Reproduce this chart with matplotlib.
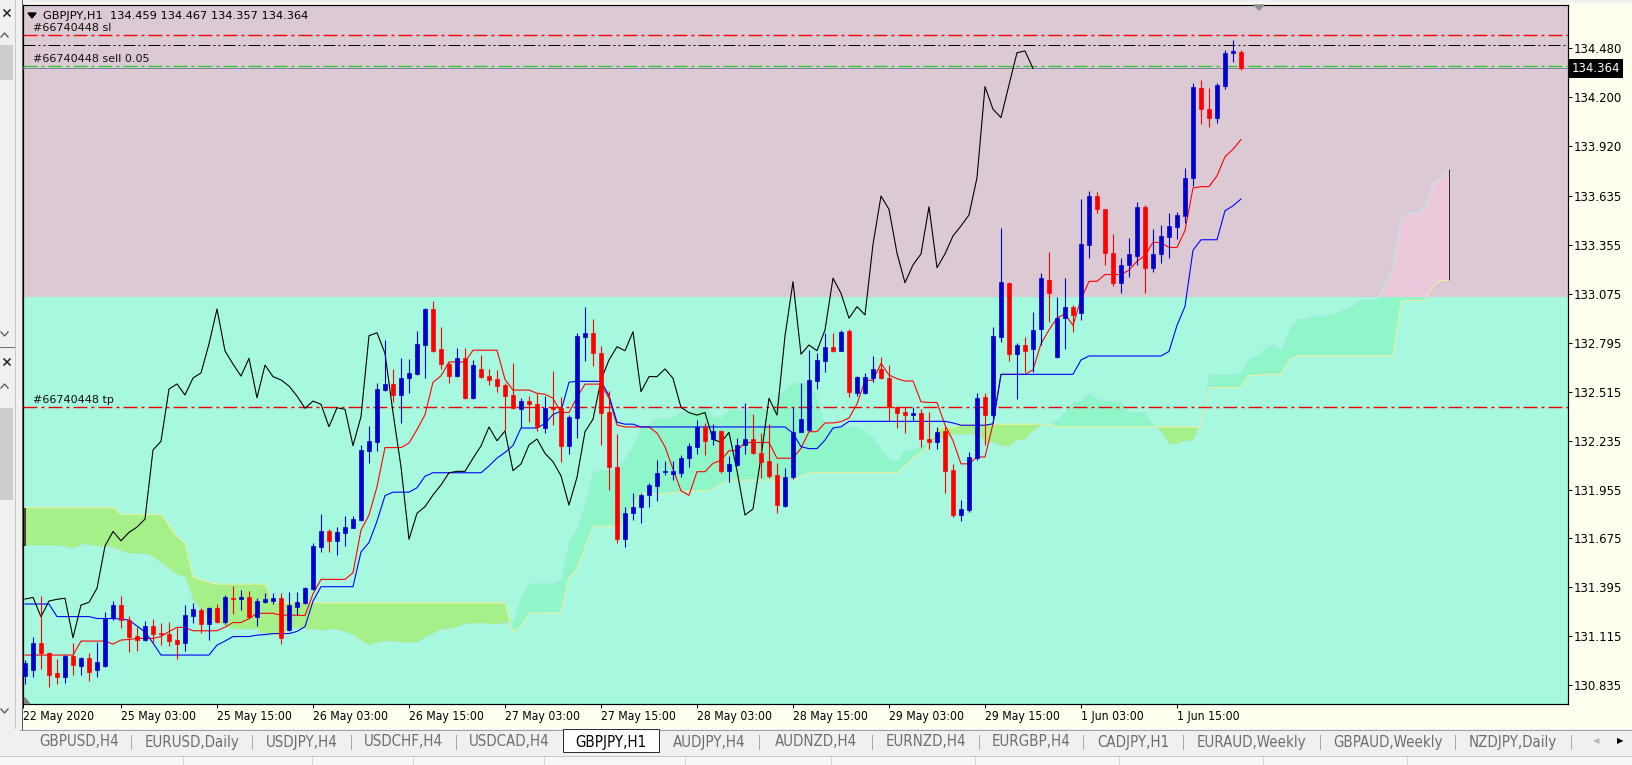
import matplotlib
matplotlib.use("Agg")
import matplotlib.pyplot as plt
from matplotlib.patches import Rectangle, Polygon
from matplotlib.lines import Line2D
import numpy as np

W, H, DPI = 1632, 765, 100

# ------------------------------------------------------------
# GBPJPY H1 - bar 0 = 25 May 2020 00:00, first visible bar = 22 May 15:00
FIRST_BAR = -9

opens = [
    130.888, 130.922, 131.078, 131.018, 130.905, 130.884, 131.002, 130.945, 130.993, 130.922,
    130.948, 131.218, 131.294, 131.208, 131.119, 131.097, 131.174, 131.137, 131.128, 131.094,
    131.075, 131.233, 131.266, 131.185, 131.277, 131.195, 131.337, 131.326, 131.340, 131.227,
    131.311, 131.319, 131.333, 131.151, 131.284, 131.304, 131.386, 131.628, 131.718, 131.662,
    131.708, 131.736, 131.781, 132.175, 132.229, 132.524, 132.559, 132.496, 132.595, 132.616,
    132.782, 132.988, 132.759, 132.673, 132.604, 132.706, 132.480, 132.645, 132.604, 132.587,
    132.553, 132.496, 132.416, 132.461, 132.444, 132.309, 132.425, 132.420, 132.206, 132.366,
    132.829, 132.852, 132.738, 132.400, 132.085, 131.670, 131.819, 131.857, 131.924, 131.977,
    132.053, 132.042, 132.051, 132.137, 132.200, 132.313, 132.244, 132.290, 132.063, 132.095,
    132.210, 132.244, 132.162, 132.120, 132.038, 131.862, 132.025, 132.286, 132.295, 132.578,
    132.692, 132.769, 132.749, 132.864, 132.509, 132.506, 132.595, 132.645, 132.595, 132.429,
    132.400, 132.381, 132.391, 132.244, 132.229, 132.290, 132.067, 131.809, 131.838, 132.135,
    132.486, 132.381, 132.829, 133.135, 132.729, 132.782, 132.757, 132.872, 133.154, 132.715,
    132.935, 133.001, 132.963, 133.354, 133.634, 133.558, 133.307, 133.135, 133.240, 133.291,
    133.573, 133.224, 133.301, 133.402, 133.459, 133.520, 133.739, 134.254, 134.132, 134.083,
    134.264, 134.451, 134.459,
]
highs = [
    130.979, 131.113, 131.346, 131.027, 130.983, 131.008, 131.075, 130.998, 131.018, 131.084,
    131.256, 131.317, 131.346, 131.233, 131.170, 131.203, 131.212, 131.191, 131.195, 131.161,
    131.294, 131.308, 131.277, 131.285, 131.299, 131.351, 131.403, 131.378, 131.374, 131.334,
    131.361, 131.361, 131.361, 131.367, 131.367, 131.399, 131.647, 131.813, 131.727, 131.742,
    131.805, 131.805, 132.210, 132.318, 132.563, 132.811, 132.645, 132.706, 132.702, 132.862,
    132.992, 133.034, 132.883, 132.686, 132.763, 132.763, 132.696, 132.725, 132.643, 132.639,
    132.564, 132.677, 132.479, 132.490, 132.506, 132.490, 132.635, 132.486, 132.380, 132.849,
    133.001, 132.931, 132.776, 132.520, 132.273, 131.853, 131.933, 131.933, 131.991, 132.124,
    132.120, 132.120, 132.152, 132.219, 132.353, 132.334, 132.330, 132.295, 132.147, 132.251,
    132.448, 132.387, 132.277, 132.330, 132.107, 132.076, 132.425, 132.563, 132.753, 132.738,
    132.852, 132.849, 132.868, 132.872, 132.605, 132.620, 132.719, 132.715, 132.667, 132.435,
    132.429, 132.429, 132.414, 132.400, 132.311, 132.314, 132.101, 131.895, 132.170, 132.507,
    132.506, 132.887, 133.453, 133.144, 132.792, 132.829, 132.972, 133.196, 133.316, 133.058,
    133.164, 133.011, 133.617, 133.663, 133.656, 133.560, 133.417, 133.278, 133.392, 133.602,
    133.583, 133.444, 133.469, 133.539, 133.545, 133.796, 134.283, 134.298, 134.254, 134.279,
    134.470, 134.527, 134.467,
]
lows = [
    130.842, 130.882, 130.926, 130.825, 130.842, 130.848, 130.894, 130.894, 130.859, 130.882,
    130.940, 131.208, 131.163, 131.027, 131.034, 131.088, 131.075, 131.065, 131.062, 130.985,
    131.029, 131.194, 131.137, 131.092, 131.190, 131.185, 131.241, 131.266, 131.220, 131.176,
    131.303, 131.300, 131.069, 131.145, 131.237, 131.300, 131.380, 131.599, 131.599, 131.580,
    131.632, 131.735, 131.775, 132.105, 132.177, 132.519, 132.457, 132.337, 132.509, 132.610,
    132.595, 132.742, 132.643, 132.566, 132.600, 132.471, 132.473, 132.591, 132.553, 132.515,
    132.286, 132.416, 132.314, 132.340, 132.292, 132.277, 132.324, 132.114, 132.156, 132.248,
    132.692, 132.664, 132.210, 131.952, 131.647, 131.624, 131.781, 131.762, 131.857, 131.891,
    132.038, 132.009, 132.028, 132.085, 132.158, 132.153, 132.210, 132.048, 131.999, 132.090,
    132.158, 132.158, 132.019, 132.019, 131.819, 131.857, 132.015, 132.284, 132.290, 132.528,
    132.629, 132.740, 132.748, 132.483, 132.490, 132.502, 132.572, 132.587, 132.349, 132.305,
    132.280, 132.353, 132.197, 132.187, 132.187, 131.933, 131.799, 131.775, 131.826, 132.124,
    132.210, 132.364, 132.797, 132.690, 132.471, 132.629, 132.629, 132.782, 132.915, 132.708,
    132.757, 132.858, 132.925, 133.281, 133.539, 133.240, 133.119, 133.078, 133.169, 133.240,
    133.078, 133.201, 133.249, 133.278, 133.387, 133.478, 133.692, 134.046, 134.031, 134.054,
    134.247, 134.403, 134.357,
]
closes = [
    130.962, 131.078, 131.018, 130.894, 130.884, 131.002, 130.951, 130.993, 130.912, 130.970,
    131.218, 131.294, 131.208, 131.113, 131.097, 131.174, 131.128, 131.131, 131.090, 131.074,
    131.237, 131.270, 131.185, 131.279, 131.199, 131.342, 131.328, 131.338, 131.227, 131.317,
    131.327, 131.333, 131.107, 131.294, 131.310, 131.390, 131.632, 131.715, 131.662, 131.710,
    131.740, 131.786, 132.181, 132.231, 132.530, 132.559, 132.496, 132.593, 132.622, 132.788,
    132.988, 132.748, 132.673, 132.604, 132.706, 132.480, 132.667, 132.601, 132.582, 132.547,
    132.490, 132.420, 132.461, 132.443, 132.314, 132.423, 132.414, 132.206, 132.372, 132.835,
    132.852, 132.734, 132.395, 132.085, 131.670, 131.819, 131.857, 131.924, 131.981, 132.051,
    132.059, 132.059, 132.134, 132.204, 132.313, 132.234, 132.290, 132.063, 132.101, 132.210,
    132.244, 132.162, 132.114, 132.034, 131.866, 132.025, 132.286, 132.357, 132.582, 132.696,
    132.772, 132.749, 132.858, 132.515, 132.601, 132.601, 132.645, 132.591, 132.425, 132.395,
    132.381, 132.395, 132.242, 132.225, 132.282, 132.063, 131.809, 131.844, 132.141, 132.477,
    132.381, 132.833, 133.144, 132.729, 132.782, 132.749, 132.868, 133.164, 133.078, 132.935,
    133.001, 132.954, 133.358, 133.634, 133.558, 133.307, 133.138, 133.240, 133.303, 133.573,
    133.224, 133.303, 133.406, 133.463, 133.526, 133.739, 134.260, 134.131, 134.083, 134.270,
    134.454, 134.464, 134.364,
]

# Ichimoku (9, 26, 52)
tenkan = [
    131.008, 131.008, 131.008, 131.008, 131.008, 131.008, 131.008, 131.088, 131.088, 131.088,
    131.088, 131.071, 131.094, 131.097, 131.103, 131.103, 131.103, 131.114, 131.143, 131.166,
    131.166, 131.147, 131.147, 131.147, 131.147, 131.168, 131.194, 131.194, 131.216, 131.247,
    131.247, 131.247, 131.236, 131.236, 131.236, 131.234, 131.358, 131.441, 131.441, 131.441,
    131.441, 131.479, 131.723, 131.809, 131.971, 132.195, 132.195, 132.195, 132.221, 132.298,
    132.383, 132.569, 132.605, 132.685, 132.685, 132.685, 132.752, 132.752, 132.752, 132.752,
    132.585, 132.524, 132.524, 132.524, 132.506, 132.500, 132.477, 132.396, 132.396, 132.482,
    132.558, 132.558, 132.558, 132.477, 132.324, 132.313, 132.313, 132.313, 132.313, 132.278,
    132.200, 132.072, 131.948, 131.922, 132.057, 132.057, 132.105, 132.122, 132.177, 132.177,
    132.224, 132.224, 132.224, 132.224, 132.134, 132.134, 132.134, 132.191, 132.286, 132.286,
    132.336, 132.336, 132.343, 132.364, 132.444, 132.578, 132.581, 132.677, 132.610, 132.589,
    132.576, 132.576, 132.457, 132.453, 132.453, 132.324, 132.234, 132.102, 132.102, 132.141,
    132.141, 132.331, 132.614, 132.614, 132.614, 132.614, 132.640, 132.789, 132.868, 132.936,
    132.959, 132.894, 133.044, 133.146, 133.146, 133.185, 133.185, 133.185, 133.210, 133.261,
    133.294, 133.370, 133.367, 133.340, 133.340, 133.437, 133.680, 133.688, 133.688, 133.750,
    133.859, 133.902, 133.957,
]
kijun = [
    131.300, 131.300, 131.300, 131.300, 131.228, 131.228, 131.228, 131.228, 131.228, 131.217,
    131.217, 131.217, 131.214, 131.208, 131.174, 131.140, 131.077, 131.008, 131.008, 131.008,
    131.008, 131.008, 131.008, 131.008, 131.065, 131.088, 131.114, 131.114, 131.114, 131.122,
    131.125, 131.131, 131.131, 131.131, 131.143, 131.171, 131.316, 131.399, 131.399, 131.399,
    131.399, 131.399, 131.598, 131.652, 131.774, 131.920, 131.940, 131.940, 131.940, 131.965,
    132.031, 132.051, 132.051, 132.051, 132.051, 132.051, 132.051, 132.051, 132.090, 132.135,
    132.167, 132.207, 132.307, 132.307, 132.307, 132.333, 132.384, 132.404, 132.569, 132.574,
    132.574, 132.574, 132.574, 132.493, 132.340, 132.329, 132.329, 132.313, 132.313, 132.313,
    132.313, 132.313, 132.313, 132.313, 132.313, 132.313, 132.313, 132.313, 132.313, 132.313,
    132.313, 132.313, 132.313, 132.313, 132.313, 132.313, 132.277, 132.200, 132.189, 132.189,
    132.238, 132.307, 132.314, 132.345, 132.345, 132.345, 132.345, 132.345, 132.345, 132.345,
    132.345, 132.345, 132.345, 132.345, 132.345, 132.345, 132.336, 132.323, 132.323, 132.323,
    132.323, 132.331, 132.614, 132.614, 132.614, 132.614, 132.614, 132.614, 132.614, 132.614,
    132.614, 132.614, 132.696, 132.719, 132.719, 132.719, 132.719, 132.719, 132.719, 132.719,
    132.719, 132.719, 132.719, 132.745, 132.894, 133.003, 133.324, 133.384, 133.384, 133.384,
    133.550, 133.578, 133.617,
]
# senkou spans, already shifted 26 bars ahead (bars -9 .. 169)
span_a = [
    131.632, 131.632, 131.632, 131.632, 131.632, 131.626, 131.615, 131.638, 131.638, 131.628,
    131.626, 131.620, 131.603, 131.586, 131.586, 131.586, 131.569, 131.534, 131.500, 131.466,
    131.454, 131.323, 131.266, 131.220, 131.191, 131.174, 131.154, 131.154, 131.154, 131.154,
    131.118, 131.118, 131.118, 131.158, 131.158, 131.152, 131.152, 131.144, 131.154, 131.152,
    131.138, 131.121, 131.089, 131.061, 131.075, 131.086, 131.086, 131.077, 131.077, 131.077,
    131.106, 131.128, 131.154, 131.154, 131.165, 131.185, 131.186, 131.189, 131.183, 131.183,
    131.189, 131.203, 131.337, 131.420, 131.420, 131.420, 131.420, 131.439, 131.660, 131.730,
    131.872, 132.058, 132.067, 132.067, 132.080, 132.132, 132.207, 132.310, 132.328, 132.368,
    132.368, 132.368, 132.401, 132.401, 132.421, 132.444, 132.376, 132.365, 132.416, 132.416,
    132.406, 132.416, 132.431, 132.400, 132.482, 132.528, 132.566, 132.566, 132.566, 132.485,
    132.332, 132.321, 132.321, 132.313, 132.313, 132.296, 132.256, 132.193, 132.130, 132.117,
    132.185, 132.185, 132.209, 132.217, 132.245, 132.245, 132.268, 132.268, 132.268, 132.268,
    132.223, 132.223, 132.205, 132.195, 132.237, 132.237, 132.287, 132.321, 132.329, 132.355,
    132.395, 132.461, 132.463, 132.511, 132.478, 132.467, 132.460, 132.460, 132.401, 132.399,
    132.399, 132.334, 132.285, 132.213, 132.213, 132.232, 132.232, 132.331, 132.614, 132.614,
    132.614, 132.614, 132.627, 132.702, 132.723, 132.762, 132.788, 132.754, 132.870, 132.933,
    132.933, 132.952, 132.952, 132.952, 132.964, 132.990, 133.007, 133.045, 133.043, 133.042,
    133.117, 133.220, 133.502, 133.536, 133.536, 133.568, 133.705, 133.740, 133.787,
]
span_b = [
    131.851, 131.851, 131.851, 131.851, 131.851, 131.851, 131.851, 131.851, 131.851, 131.851,
    131.851, 131.851, 131.813, 131.813, 131.813, 131.813, 131.813, 131.813, 131.752, 131.685,
    131.647, 131.456, 131.437, 131.426, 131.414, 131.414, 131.414, 131.414, 131.414, 131.414,
    131.414, 131.307, 131.307, 131.307, 131.307, 131.307, 131.307, 131.307, 131.307, 131.307,
    131.307, 131.307, 131.307, 131.307, 131.307, 131.307, 131.307, 131.307, 131.307, 131.307,
    131.307, 131.307, 131.307, 131.307, 131.307, 131.307, 131.307, 131.307, 131.307, 131.307,
    131.307, 131.140, 131.168, 131.248, 131.248, 131.248, 131.248, 131.248, 131.449, 131.500,
    131.620, 131.746, 131.746, 131.746, 131.746, 131.775, 131.878, 131.929, 131.938, 131.929,
    131.929, 131.938, 131.941, 131.947, 131.947, 131.947, 131.958, 131.987, 132.009, 132.009,
    132.009, 132.009, 132.009, 132.009, 132.009, 132.009, 132.009, 132.031, 132.051, 132.051,
    132.051, 132.051, 132.051, 132.051, 132.051, 132.051, 132.051, 132.051, 132.051, 132.051,
    132.090, 132.135, 132.167, 132.207, 132.307, 132.307, 132.307, 132.329, 132.329, 132.329,
    132.329, 132.329, 132.329, 132.329, 132.329, 132.329, 132.329, 132.329, 132.329, 132.313,
    132.313, 132.313, 132.313, 132.313, 132.313, 132.313, 132.313, 132.313, 132.313, 132.313,
    132.313, 132.313, 132.313, 132.313, 132.313, 132.313, 132.313, 132.313, 132.539, 132.539,
    132.539, 132.539, 132.539, 132.607, 132.607, 132.614, 132.614, 132.614, 132.696, 132.719,
    132.719, 132.719, 132.719, 132.719, 132.719, 132.719, 132.719, 132.719, 132.719, 132.719,
    132.719, 132.719, 133.029, 133.037, 133.037, 133.037, 133.122, 133.151, 133.151,
]

time_ticks = [3, 15, 27, 39, 51, 63, 75, 87, 99, 111, 123, 135]
time_labels = ["25 May 03:00", "25 May 15:00", "26 May 03:00", "26 May 15:00",
               "27 May 03:00", "27 May 15:00", "28 May 03:00", "28 May 15:00",
               "29 May 03:00", "29 May 15:00", "1 Jun 03:00", "1 Jun 15:00"]
first_label = "22 May 2020"
price_ticks = [134.480, 134.200, 133.920, 133.635, 133.355, 133.075, 132.795,
               132.515, 132.235, 131.955, 131.675, 131.395, 131.115, 130.835]

ticket = "#66740448"
order_sl = 134.556
level_line = 134.500
order_open = 134.377
bid = 134.364
order_tp = 132.425
zone_split = 133.058
header = "GBPJPY,H1  134.459 134.467 134.357 134.364"

tabs = ["GBPUSD,H4", "EURUSD,Daily", "USDJPY,H4", "USDCHF,H4", "USDCAD,H4",
        "GBPJPY,H1", "AUDJPY,H4", "AUDNZD,H4", "EURNZD,H4", "EURGBP,H4",
        "CADJPY,H1", "EURAUD,Weekly", "GBPAUD,Weekly", "NZDJPY,Daily"]
active_tab = "GBPJPY,H1"

# ------------------------------------------------------------
BG_SELL = "#dbcad4"
BG_BUY = "#a6f8de"
CLOUD_UP_BUY = "#8ff6c9"
CLOUD_UP_SELL = "#ecc9da"
CLOUD_DOWN = "#a5f089"
BULL = "#0000cc"
BEAR = "#ff0000"
PX = 0.72  # one pixel in points
AXFONT = 9.0

plt.rcParams["font.family"] = "DejaVu Sans"
plt.rcParams["lines.scale_dashes"] = False

fig = plt.figure(figsize=(W / DPI, H / DPI), dpi=DPI)
fig.patch.set_facecolor("#f0f0f0")


def fig_rect(x0, y0, x1, y1, **kw):
    r = Rectangle((x0 / W, 1 - y1 / H), (x1 - x0) / W, (y1 - y0) / H,
                  transform=fig.transFigure, **kw)
    fig.add_artist(r)


def fig_line(xs, ys, **kw):
    fig.add_artist(Line2D([x / W for x in xs], [1 - y / H for y in ys],
                          transform=fig.transFigure, **kw))


def fig_text(x, y, s, **kw):
    fig.text(x / W, 1 - y / H, s, **kw)


# chart window (ivory axis area)
fig_rect(22, 3, W, 729, facecolor="#fffff0", edgecolor="none", zorder=0)

ax = fig.add_axes([23 / W, 1 - 704 / H, (1568 - 23) / W, (704 - 5) / H])
xlo, xhi = FIRST_BAR - 0.25, 183.875
ylo, yhi = 130.728, 134.727
ax.set_xlim(xlo, xhi)
ax.set_ylim(ylo, yhi)
ax.set_facecolor(BG_BUY)
ax.axhspan(zone_split, yhi, color=BG_SELL, lw=0, zorder=0)
ax.axhspan(ylo, zone_split, color=BG_BUY, lw=0, zorder=0)

# ---- cloud ----
xs = np.arange(FIRST_BAR, FIRST_BAR + len(span_a))
a = np.array(span_a)
b = np.array(span_b)
ax.fill_between(xs, a, b, where=b >= a, interpolate=True, color=CLOUD_DOWN, lw=0, zorder=1)
for clr, y0, y1 in ((CLOUD_UP_BUY, ylo, zone_split), (CLOUD_UP_SELL, zone_split, yhi)):
    f = ax.fill_between(xs, a, b, where=a >= b, interpolate=True, color=clr, lw=0, zorder=1)
    f.set_clip_path(Rectangle((xlo, y0), xhi - xlo, y1 - y0, transform=ax.transData))
ax.plot(xs, a, color="#b4ecf0", lw=PX, zorder=2)
ax.plot(xs, b, color="#f4eea0", lw=PX, zorder=2)
ax.vlines([xs[-1]], min(a[-1], b[-1]), max(a[-1], b[-1]), color="#303030", lw=PX, zorder=2)
ax.vlines([xs[0]], min(a[0], b[0]), max(a[0], b[0]), color="#4a2020", lw=1.2, zorder=2)

# ---- order / level lines ----
dash_dot = (0, (10.0, 2.9, 2.2, 2.9))
dash_dot_dot = (0, (8.6, 2.2, 1.4, 2.2, 1.4, 2.2))
for lvl, clr, ls, lw in ((order_sl, "#ff0000", dash_dot, 1.0), (order_tp, "#ee0000", dash_dot, 1.0),
                         (level_line, "black", dash_dot_dot, PX), (order_open, "#22cc22", dash_dot, 0.9),
                         (bid, "#778899", "-", PX)):
    ax.axhline(lvl, color=clr, lw=lw, linestyle=ls, zorder=3)

# ---- ichimoku lines ----
bars = np.arange(FIRST_BAR, FIRST_BAR + len(opens))
o, h, l, c = (np.array(v) for v in (opens, highs, lows, closes))
ax.plot(bars, tenkan, color="#ff0000", lw=PX * 1.1, zorder=4)
ax.plot(bars, kijun, color="#0000ff", lw=PX * 1.1, zorder=4)
ax.plot(bars[26:] - 26, c[26:], color="black", lw=PX * 1.1, zorder=4)

# ---- candles ----
col = np.where(c >= o, BULL, BEAR)
ax.vlines(bars, l, h, colors=col, lw=PX * 1.1, zorder=5)
ax.bar(bars, np.abs(c - o), width=0.6, bottom=np.minimum(o, c), color=col,
       edgecolor=col, lw=0.5, zorder=6)

# ---- axes ----
for s in ax.spines.values():
    s.set_color("black")
    s.set_linewidth(PX * 1.2)
ax.yaxis.tick_right()
ax.set_yticks(price_ticks)
ax.set_yticklabels([f"{p:.3f}" for p in price_ticks])
ax.set_xticks([xlo] + time_ticks)
ax.set_xticklabels([first_label] + time_labels)
ax.tick_params(axis="y", direction="out", length=4 * PX, width=PX, pad=2 * PX,
               labelsize=AXFONT + 0.4, colors="black")
ax.tick_params(axis="x", direction="out", length=4 * PX, width=PX, pad=2 * PX,
               labelsize=AXFONT - 0.3, colors="black")
for t in ax.get_xticklabels():
    t.set_ha("left")
    t.set_fontstretch("condensed")
for t in ax.get_yticklabels():
    t.set_fontstretch("condensed")

# price tag
ax.annotate(f"{bid:.3f}", xy=(1, bid), xycoords=ax.get_yaxis_transform(),
            xytext=(4, 0), textcoords="offset pixels", va="center", ha="left",
            color="white", fontsize=AXFONT + 0.4, fontstretch="condensed",
            bbox=dict(boxstyle="square,pad=0.2", fc="black", ec="none"),
            annotation_clip=False, zorder=10)

# order labels
for txt, lvl in ((f"{ticket} sl", order_sl), (f"{ticket} sell 0.05", order_open),
                 (f"{ticket} tp", order_tp)):
    ax.annotate(txt, xy=(0, lvl), xycoords=ax.get_yaxis_transform(),
                xytext=(10, 2), textcoords="offset pixels", va="bottom", ha="left",
                fontsize=8, color="#101010", zorder=7)

# header
ax.annotate(header, xy=(0, 1), xycoords="axes fraction", xytext=(20, -11),
            textcoords="offset pixels", va="center", ha="left", fontsize=8.2,
            color="black", zorder=7)
fig.add_artist(Polygon([(28 / W, 1 - 13 / H), (36 / W, 1 - 13 / H), (32 / W, 1 - 18 / H)],
                       closed=True, transform=fig.transFigure, color="black"))

# chart shift marker and scale marker
fig.add_artist(Polygon([(1254 / W, 1 - 5 / H), (1264 / W, 1 - 5 / H), (1259 / W, 1 - 10 / H)],
                       closed=True, transform=fig.transFigure, color="#8c8c8c", zorder=8))
fig.add_artist(Polygon([(24 / W, 1 - 697 / H), (24 / W, 1 - 703 / H), (29 / W, 1 - 703 / H)],
                       closed=True, transform=fig.transFigure, color="#808080", zorder=8))

# ---- left docked strip ----
fig_line([14.5, 14.5], [0, 728], color="#c8c8c8", lw=PX)
fig_line([21.5, 21.5], [0, 729], color="#5a5a5a", lw=PX)
fig_rect(0, 45, 13, 80, facecolor="#cdcdcd", edgecolor="none")
fig_rect(0, 408, 13, 500, facecolor="#cdcdcd", edgecolor="none")
for cy in (13, 362):
    fig_line([4, 10], [cy - 3, cy + 3], color="#202020", lw=1.1)
    fig_line([4, 10], [cy + 3, cy - 3], color="#202020", lw=1.1)
for cy in (35, 386):
    fig_line([1, 4.5, 8], [cy + 2, cy - 2, cy + 2], color="#606060", lw=1.0)
for cy in (334, 711):
    fig_line([1, 4.5, 8], [cy - 2, cy + 2, cy - 2], color="#606060", lw=1.0)
fig_line([0, 14], [347, 347], color="#707070", lw=PX)

# ---- tab bar ----
fig_line([20, W], [729.5, 729.5], color="#a0a0a0", lw=PX)
edges = [27, 131, 252, 351, 456, 562, 660, 759, 872, 979, 1083, 1183, 1320, 1455, 1571]
for k, name in enumerate(tabs):
    x0, x1 = edges[k], edges[k + 1]
    if name == active_tab:
        fig_rect(x0 + 1, 729, x1 - 1, 752, facecolor="white", edgecolor="#303030", lw=PX, zorder=2)
        fig_text((x0 + x1) / 2, 742, name, ha="center", va="center", fontsize=10.8,
                 fontstretch="condensed", color="black", zorder=3)
    else:
        fig_text((x0 + x1) / 2, 742, name, ha="center", va="center", fontsize=10.8,
                 fontstretch="condensed", color="#6e6e6e")
for k, x in enumerate(edges[1:]):
    if k + 1 in (5, 6):
        continue
    fig_line([x, x], [735, 749], color="#a8a8a8", lw=PX)
fig_text(1596, 741, "\u25c0", ha="center", va="center", fontsize=6, color="#b8b8b8")
fig_text(1620, 741, "\u25b6", ha="center", va="center", fontsize=6, color="black")

# ---- status bar ----
fig_rect(0, 756, W, H, facecolor="#f7f7f7", edgecolor="none")
fig_line([0, W], [756, 756], color="#c8c8c8", lw=PX)
for x in (183, 312, 413, 544, 685, 831, 975, 1119, 1263, 1407):
    fig_line([x, x], [757, H], color="#d4d4d4", lw=PX)

fig.savefig("out.png", dpi=DPI, facecolor=fig.get_facecolor())
